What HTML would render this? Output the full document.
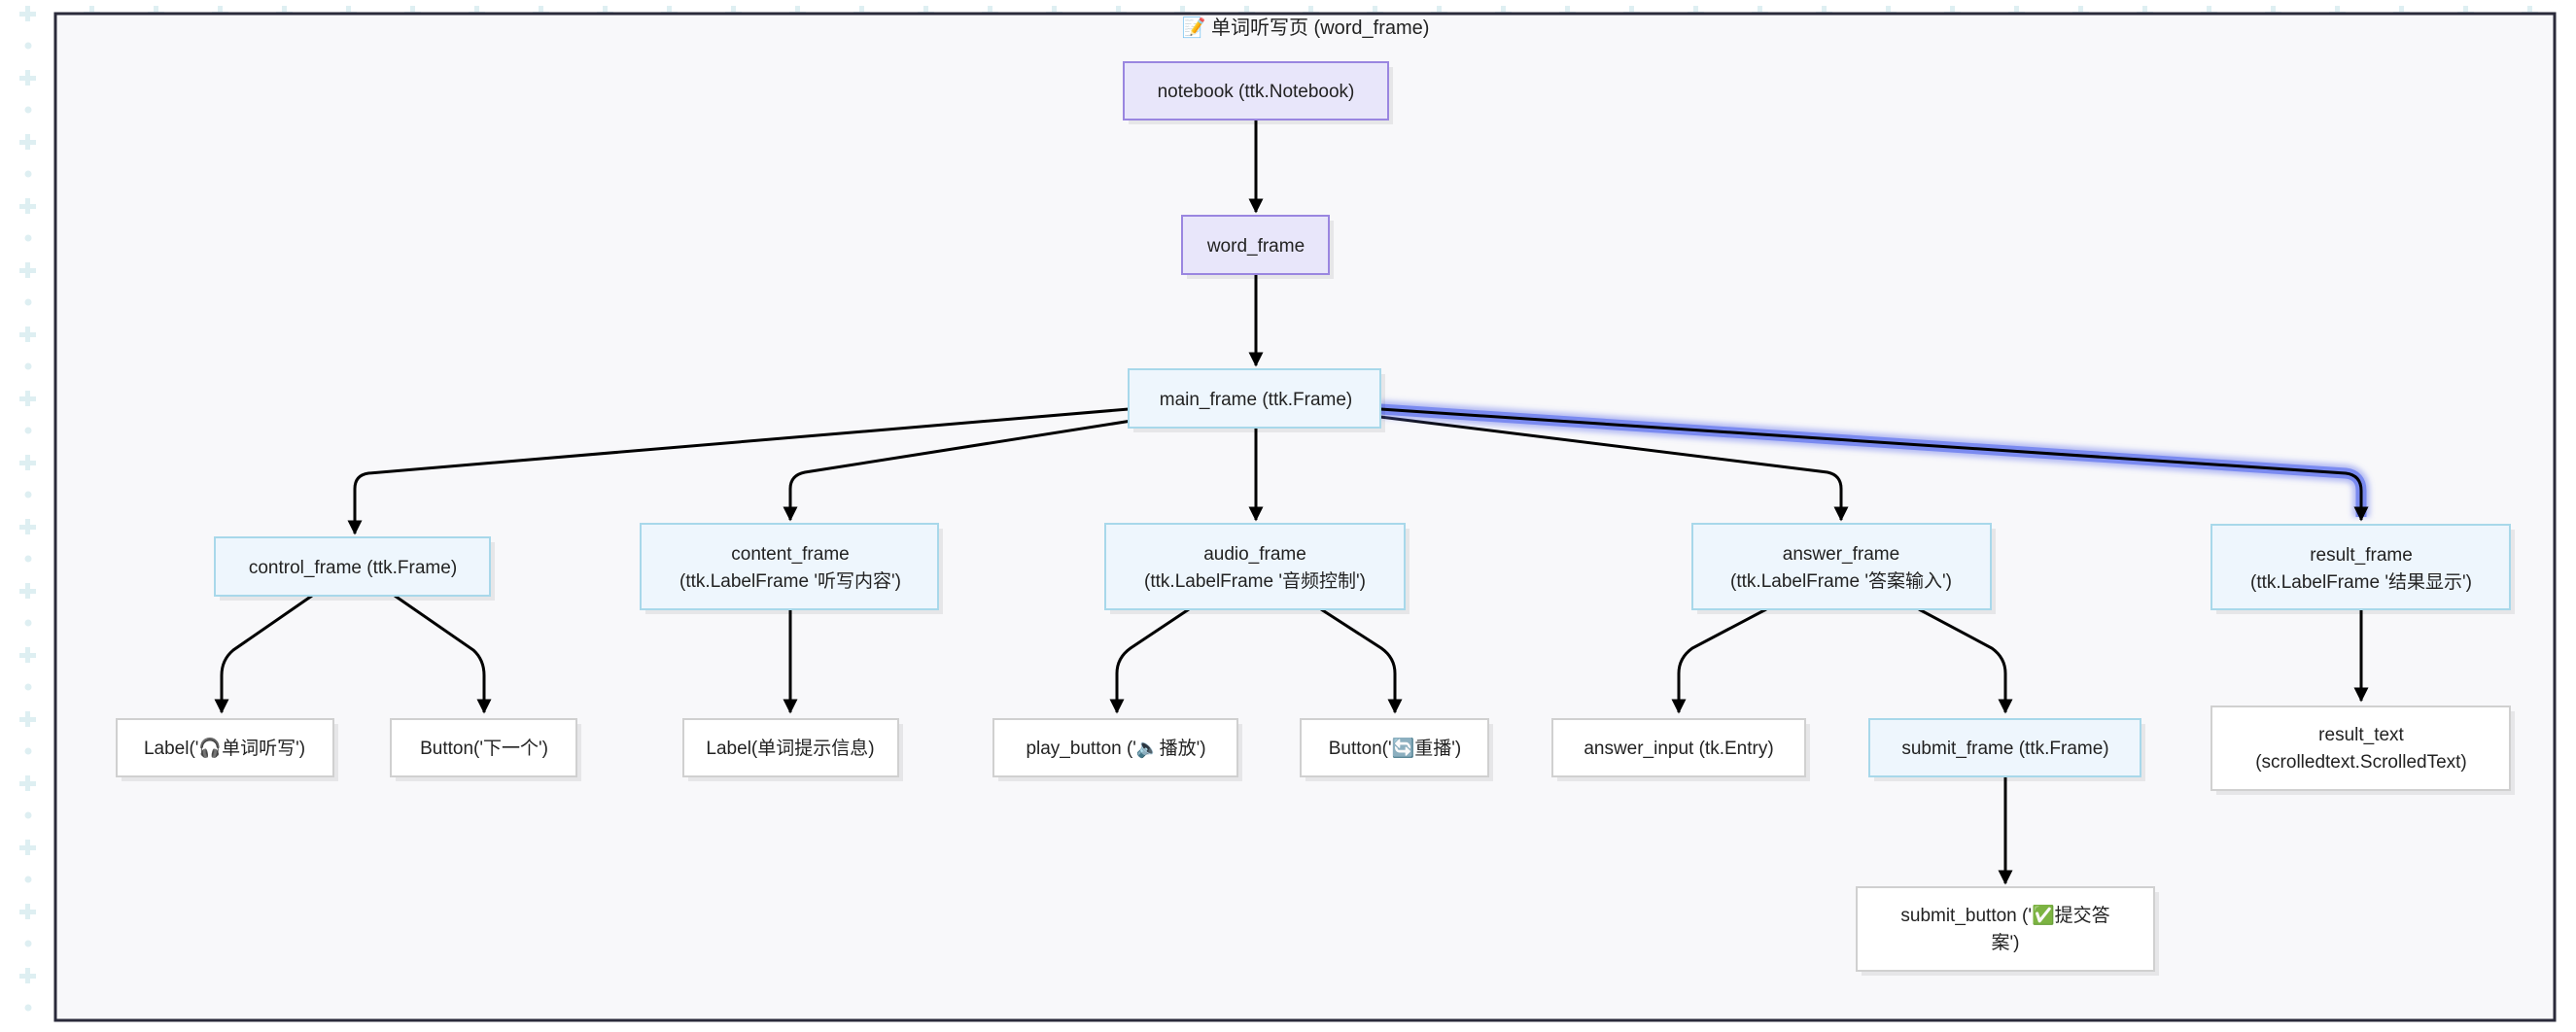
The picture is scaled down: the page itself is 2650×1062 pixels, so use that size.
<!DOCTYPE html>
<html><head><meta charset="utf-8"><style>
html,body{margin:0;padding:0;background:#fff;}
svg{display:block;}
text{font-family:"Liberation Sans","Noto Sans CJK SC",sans-serif;font-size:19px;fill:#222;}
</style></head><body>
<svg width="2650" height="1062" viewBox="0 0 2650 1062" xmlns="http://www.w3.org/2000/svg">
<defs>
<pattern id="pt" x="0" y="0" width="66" height="66" patternUnits="userSpaceOnUse">
<g fill="#deeff2"><rect x="26" y="6" width="5" height="16"/><rect x="20" y="12" width="17" height="5"/><circle cx="29" cy="47" r="3.5"/></g>
</pattern>
<marker id="ah" viewBox="0 0 10 10" refX="9" refY="5" markerWidth="5" markerHeight="5" orient="auto" markerUnits="strokeWidth"><path d="M0,0 L10,5 L0,10 z" fill="#000"/></marker>
<filter id="glow" x="-10%" y="-50%" width="120%" height="200%"><feGaussianBlur stdDeviation="3"/></filter>
</defs>
<rect width="2650" height="1062" fill="url(#pt)"/>
<rect x="57" y="14" width="2571" height="1036" fill="#f8f8fa" stroke="#2a2a3a" stroke-width="3"/>
<text x="1343" y="35" text-anchor="middle" style="font-size:20px">📝 单词听写页 (word_frame)</text>

<g fill="none" stroke="#000" stroke-width="3" marker-end="url(#ah)">
<path d="M1292,123 L1292,218"/>
<path d="M1292,282 L1292,376"/>
<path d="M1292,440 L1292,535"/>
<path d="M1161,421 L379,487 Q365,489 365,503 L365,549"/>
<path d="M1164,433 L828,486 Q813,489 813,503 L813,535"/>
<path d="M1420,429 L1880,486 Q1894,489 1894,503 L1894,535"/>
<path d="M321,613 L240,669 Q228,679 228,695 L228,733"/>
<path d="M406,613 L487,669 Q498,679 498,695 L498,733"/>
<path d="M813,627 L813,733"/>
<path d="M1223,627 L1163,667 Q1149,677 1149,693 L1149,733"/>
<path d="M1359,627 L1421,667 Q1435,677 1435,693 L1435,733"/>
<path d="M1817,627 L1741,667 Q1727,677 1727,693 L1727,733"/>
<path d="M1974,627 L2049,667 Q2063,677 2063,693 L2063,733"/>
<path d="M2063,799 L2063,909"/>
<path d="M2429,627 L2429,721"/>
</g>
<path d="M1420,421 L2413,487 Q2429,489 2429,505 L2429,532" fill="none" stroke="#7080ee" stroke-width="18" stroke-opacity="0.5" filter="url(#glow)"/>
<path d="M1420,421 L2413,487 Q2429,489 2429,505 L2429,532" fill="none" stroke="#7a8af0" stroke-width="11"/>
<path d="M1420,421 L2413,487 Q2429,489 2429,505 L2429,535" fill="none" stroke="#000" stroke-width="3" marker-end="url(#ah)"/>

<g fill="#000" fill-opacity="0.07">
<rect x="1161" y="69" width="272" height="59"/><rect x="1221" y="227" width="151" height="60"/>
<rect x="1166" y="385" width="259" height="60"/><rect x="226" y="558" width="283" height="60"/>
<rect x="664" y="544" width="306" height="88"/><rect x="1142" y="544" width="308" height="88"/>
<rect x="1746" y="544" width="307" height="88"/><rect x="2280" y="545" width="307" height="87"/>
<rect x="125" y="745" width="223" height="59"/><rect x="407" y="745" width="191" height="59"/>
<rect x="708" y="745" width="221" height="59"/><rect x="1027" y="745" width="251" height="59"/>
<rect x="1343" y="745" width="193" height="59"/><rect x="1602" y="745" width="260" height="59"/>
<rect x="1928" y="745" width="279" height="59"/><rect x="2280" y="732" width="307" height="86"/>
<rect x="1915" y="918" width="306" height="86"/>
</g>
<g stroke-width="2">
<rect x="1156" y="64" width="272" height="59" fill="#e8e6fa" stroke="#9a86e0"/>
<rect x="1216" y="222" width="151" height="60" fill="#e8e6fa" stroke="#9a86e0"/>
<g fill="#eef6fd" stroke="#a8d8ea">
<rect x="1161" y="380" width="259" height="60"/><rect x="221" y="553" width="283" height="60"/>
<rect x="659" y="539" width="306" height="88"/><rect x="1137" y="539" width="308" height="88"/>
<rect x="1741" y="539" width="307" height="88"/><rect x="2275" y="540" width="307" height="87"/>
<rect x="1923" y="740" width="279" height="59"/>
</g>
<g fill="#fff" stroke="#d0d0d0">
<rect x="120" y="740" width="223" height="59"/><rect x="402" y="740" width="191" height="59"/>
<rect x="703" y="740" width="221" height="59"/><rect x="1022" y="740" width="251" height="59"/>
<rect x="1338" y="740" width="193" height="59"/><rect x="1597" y="740" width="260" height="59"/>
<rect x="2275" y="727" width="307" height="86"/><rect x="1910" y="913" width="306" height="86"/>
</g>
</g>
<g text-anchor="middle">
<text x="1292" y="100">notebook (ttk.Notebook)</text>
<text x="1292" y="259">word_frame</text>
<text x="1292" y="417">main_frame (ttk.Frame)</text>
<text x="363" y="590">control_frame (ttk.Frame)</text>
<text x="813" y="576">content_frame</text><text x="813" y="604">(ttk.LabelFrame '听写内容')</text>
<text x="1291" y="576">audio_frame</text><text x="1291" y="604">(ttk.LabelFrame '音频控制')</text>
<text x="1894" y="576">answer_frame</text><text x="1894" y="604">(ttk.LabelFrame '答案输入')</text>
<text x="2429" y="577">result_frame</text><text x="2429" y="605">(ttk.LabelFrame '结果显示')</text>
<text x="231" y="776">Label('🎧单词听写')</text>
<text x="498" y="776">Button('下一个')</text>
<text x="813" y="776">Label(单词提示信息)</text>
<text x="1148" y="776">play_button ('🔈播放')</text>
<text x="1435" y="776">Button('🔄重播')</text>
<text x="1727" y="776">answer_input (tk.Entry)</text>
<text x="2063" y="776">submit_frame (ttk.Frame)</text>
<text x="2429" y="762">result_text</text><text x="2429" y="790">(scrolledtext.ScrolledText)</text>
<text x="2063" y="948">submit_button ('✅提交答</text><text x="2063" y="976">案')</text>
</g>
</svg>
</body></html>
